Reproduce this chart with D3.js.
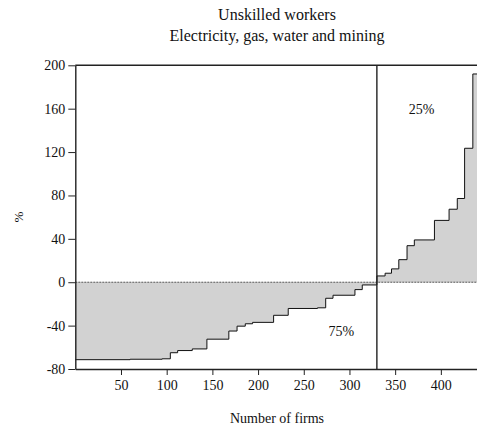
<!DOCTYPE html>
<html>
<head>
<meta charset="utf-8">
<script src="https://cdn.jsdelivr.net/npm/d3@7"></script>
<style>
  html, body { margin: 0; padding: 0; background: #fff; }
  svg { display: block; }
  text { font-family: "Liberation Serif", "Times New Roman", serif; fill: #111; }
</style>
</head>
<body>
<svg id="chart" width="477" height="432"></svg>
<script>
// Sorted firm-level changes (%), as a step function: each level starts at a firm rank
const stepStart = [0, 60, 95, 104, 112, 128, 144, 168, 177, 186, 194, 217, 233, 265, 274, 282, 306, 314,
                   330, 339, 346, 354, 363, 371, 393, 409, 418, 426, 435];
const stepValue = [-71.4, -71, -70.6, -65, -63, -61.5, -52.5, -45, -40.5, -38.3, -37, -30.5, -24.2, -23.6, -14.8, -12, -6.8, -2.5,
                   5.8, 8.3, 12.3, 20.8, 33.7, 39, 57, 67.3, 77.2, 123.5, 192];
const totalFirms = 440;
const splitFirm = 330;           // boundary between negative (75%) and positive (25%) firms
const yTicks = [-80, -40, 0, 40, 80, 120, 160, 200];
const xTicks = [50, 100, 150, 200, 250, 300, 350, 400];
const titleLines = ["Unskilled workers", "Electricity, gas, water and mining"];
const shareLabels = [{ text: "75%", x: 291, y: -50 }, { text: "25%", x: 379, y: 155 }];

const svg = d3.select("#chart");
const plotLeft = 75.3, plotRight = 477.4, plotTop = 65.3, plotBottom = 369;

const x = d3.scaleLinear().domain([0, totalFirms]).range([plotLeft, plotRight]);
const y = d3.scaleLinear().domain([-80, 200]).range([plotBottom, plotTop]);

const pts = stepStart.map((s, i) => ({ f: s, v: stepValue[i] }));
pts.push({ f: totalFirms, v: stepValue[stepValue.length - 1] });

// Shaded area between zero and the curve
svg.append("path")
  .datum(pts)
  .attr("fill", "#d2d2d2")
  .attr("d", d3.area().curve(d3.curveStepAfter)
    .x(d => x(d.f)).y0(y(0)).y1(d => y(d.v)));

// Zero reference line
svg.append("line")
  .attr("x1", plotLeft).attr("x2", plotRight)
  .attr("y1", y(0)).attr("y2", y(0))
  .attr("stroke", "#555").attr("stroke-width", 1)
  .attr("stroke-dasharray", "2,1");

// Step curve
svg.append("path")
  .datum(pts)
  .attr("fill", "none")
  .attr("stroke", "#111")
  .attr("stroke-width", 1)
  .attr("d", d3.line().curve(d3.curveStepAfter)
    .x(d => x(d.f)).y(d => y(d.v)));

// Vertical split line
svg.append("line")
  .attr("x1", x(splitFirm)).attr("x2", x(splitFirm))
  .attr("y1", plotTop).attr("y2", plotBottom)
  .attr("stroke", "#222").attr("stroke-width", 1.4);

// Top frame
svg.append("line")
  .attr("x1", plotLeft).attr("x2", plotRight)
  .attr("y1", plotTop).attr("y2", plotTop)
  .attr("stroke", "#222").attr("stroke-width", 1.4);

// Axes (plain hyphen for negative labels)
const fmt = d => String(d);
const yAxis = svg.append("g")
  .attr("transform", `translate(${plotLeft},0)`)
  .call(d3.axisLeft(y).tickValues(yTicks).tickFormat(fmt).tickSize(7).tickSizeOuter(0).tickPadding(3));
const xAxis = svg.append("g")
  .attr("transform", `translate(0,${plotBottom})`)
  .call(d3.axisBottom(x).tickValues(xTicks).tickFormat(fmt).tickSize(6).tickSizeOuter(0).tickPadding(5));

[yAxis, xAxis].forEach(g => {
  g.selectAll("path").attr("stroke", "#222").attr("stroke-width", 1.4);
  g.selectAll("line").attr("stroke", "#222").attr("stroke-width", 1);
  g.selectAll("text").attr("font-family", "Liberation Serif, Times New Roman, serif")
    .attr("font-size", 14).attr("fill", "#111");
});

// Titles
svg.selectAll("text.title")
  .data(titleLines)
  .enter().append("text")
  .attr("class", "title")
  .attr("x", 277).attr("y", (d, i) => 20 + i * 21)
  .attr("text-anchor", "middle")
  .attr("font-size", 16)
  .text(d => d);

// Share annotations
svg.selectAll("text.share")
  .data(shareLabels)
  .enter().append("text")
  .attr("class", "share")
  .attr("x", d => x(d.x)).attr("y", d => y(d.y))
  .attr("text-anchor", "middle")
  .attr("font-size", 14)
  .text(d => d.text);

// Axis titles
svg.append("text")
  .attr("x", 277).attr("y", 423)
  .attr("text-anchor", "middle")
  .attr("font-size", 14)
  .text("Number of firms");

svg.append("text")
  .attr("transform", `translate(23,${(plotTop + plotBottom) / 2}) rotate(-90)`)
  .attr("text-anchor", "middle")
  .attr("font-size", 13)
  .text("%");
</script>
</body>
</html>
